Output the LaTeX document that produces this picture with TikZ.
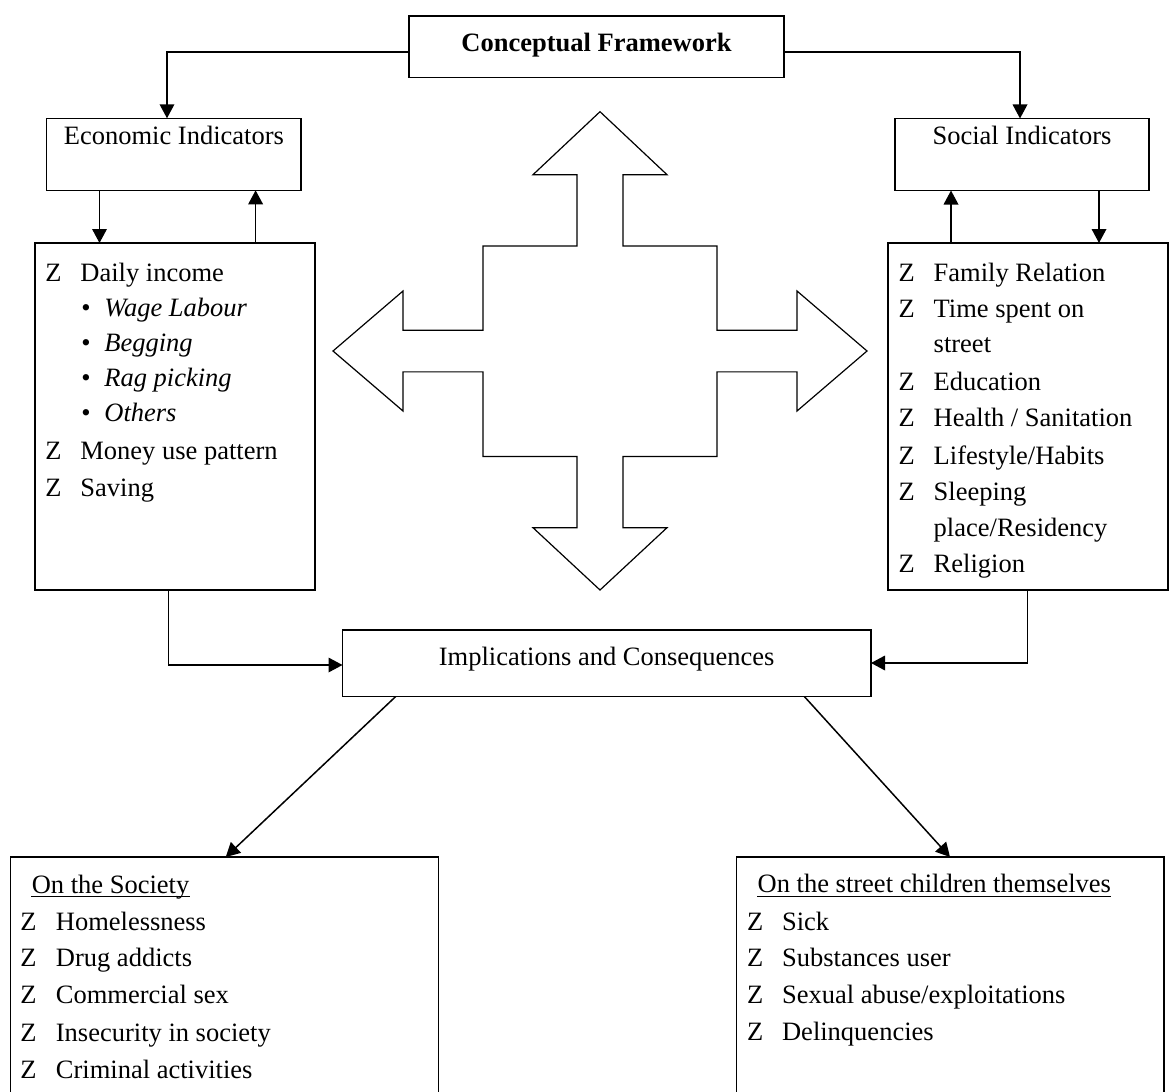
\documentclass[tikz,border=0pt]{standalone}
\usepackage{fontspec}
\setmainfont{Liberation Serif}
\usetikzlibrary{arrows.meta}
\newcommand{\labelsize}{\fontsize{13.25pt}{16pt}\selectfont}
\begin{document}
\begin{tikzpicture}[x=0.5pt, y=-0.5pt, font=\labelsize,
  frame/.style={draw, line width=0.75pt, inner sep=0pt, outer sep=0pt, anchor=north west},
  txt/.style={inner sep=0pt, anchor=base west},
  ctxt/.style={inner sep=0pt, anchor=base},
  link/.style={line width=0.75pt, -{Triangle[length=7pt,width=7.3pt]}},
  outline/.style={draw, line width=0.6pt, line join=miter},
]
\clip (0,0) rectangle (1170,1091);
\fill[white] (0,0) rectangle (1170,1091);

% ---- boxes ----
\node[frame, minimum width=187.5pt, minimum height=30.75pt] (cf) at (409,16) {};
\node[frame, minimum width=127.25pt, minimum height=36pt] (econ) at (46.7,118.3) {};
\node[frame, minimum width=127pt, minimum height=36pt] (social) at (895,118.5) {};
\node[frame, minimum width=140pt, minimum height=173.6pt] (elist) at (35,243) {};
\node[frame, minimum width=140pt, minimum height=173.5pt] (slist) at (888,243) {};
\node[frame, minimum width=264.25pt, minimum height=33.35pt] (impl) at (342.5,630) {};
\node[frame, minimum width=213.95pt, minimum height=131.5pt] (soc) at (10.7,857) {};
\node[frame, minimum width=213.65pt, minimum height=131.5pt] (street) at (736.7,857) {};

% ---- titles ----
\node[ctxt, font=\labelsize\bfseries] (cft) at (596.5,51.7) {Conceptual Framework};
\node[ctxt] (econt) at (173.9,145) {Economic Indicators};
\node[ctxt] (socialt) at (1022,145) {Social Indicators};
\node[ctxt] (implt) at (606.7,665) {Implications and Consequences};

% ---- economic indicators list ----
\foreach \yy/\lbl [count=\i] in {281/Daily income,459.3/Money use pattern,496/Saving}{
  \node[txt] (ez\i) at (45,\yy) {Z};
  \node[txt] (et\i) at (80,\yy) {\lbl};
}
\foreach \yy/\lbl [count=\i] in {316/Wage Labour,351.7/Begging,386.7/Rag picking,421/Others}{
  \node[txt] (eb\i) at (81,\yy) {\textbullet};
  \node[txt, font=\labelsize\itshape] (ei\i) at (104,\yy) {\lbl};
}

% ---- social indicators list ----
\foreach \yy/\lbl [count=\i] in {281/Family Relation,317.7/Time spent on,390/Education,426.7/{Health / Sanitation},464.3/{Lifestyle/Habits},500/Sleeping,572.7/Religion}{
  \node[txt] (sz\i) at (898.3,\yy) {Z};
  \node[txt] (st\i) at (933.3,\yy) {\lbl};
}
\node[txt] (sc1) at (933.3,352.7) {street};
\node[txt] (sc2) at (933.3,536) {place/Residency};

% ---- consequences on the society ----
\node[txt] (soct) at (31.4,893) {On the Society};
\draw[line width=0.5pt] ([yshift=-1.9pt]soct.base west) -- ([yshift=-1.9pt]soct.base east);
\foreach \yy/\lbl [count=\i] in {930/Homelessness,966.7/Drug addicts,1003.3/Commercial sex,1041.7/Insecurity in society,1078.3/Criminal activities}{
  \node[txt] (oz\i) at (19.9,\yy) {Z};
  \node[txt] (ot\i) at (55.5,\yy) {\lbl};
}

% ---- consequences on the children ----
\node[txt] (streett) at (757.3,892.7) {On the street children themselves};
\draw[line width=0.5pt] ([yshift=-1.9pt]streett.base west) -- ([yshift=-1.9pt]streett.base east);
\foreach \yy/\lbl [count=\i] in {930/Sick,966.7/Substances user,1003.3/{Sexual abuse/exploitations},1040.7/Delinquencies}{
  \node[txt] (cz\i) at (746.7,\yy) {Z};
  \node[txt] (ct\i) at (781.7,\yy) {\lbl};
}

% ---- connector guides ----
\coordinate (yg) at (0,52);
\coordinate (xe) at (167,0);
\coordinate (xf) at (1020,0);
\coordinate (xa) at (99.5,0);
\coordinate (xb) at (255.6,0);
\coordinate (xc) at (951,0);
\coordinate (xd) at (1099,0);
\coordinate (xh) at (168.5,0);
\coordinate (yh) at (0,665);
\coordinate (xi) at (1027.5,0);
\coordinate (yi) at (0,663);
\coordinate (xj) at (395.5,0);
\coordinate (xk) at (225.8,0);
\coordinate (xl) at (804.5,0);
\coordinate (xm) at (950,0);

% ---- connectors ----
\draw[link] (cf.west |- yg) -| (econ.north -| xe);
\draw[link] (cf.east |- yg) -| (social.north -| xf);
\draw[link] (econ.south -| xa) -- (elist.north -| xa);
\draw[link] (elist.north -| xb) -- (econ.south -| xb);
\draw[link] (slist.north -| xc) -- (social.south -| xc);
\draw[link] (social.south -| xd) -- (slist.north -| xd);
\draw[link] (elist.south -| xh) |- (impl.west |- yh);
\draw[link] (slist.south -| xi) |- (impl.east |- yi);
\draw[link] (impl.south -| xj) -- (soc.north -| xk);
\draw[link] (impl.south -| xl) -- (street.north -| xm);

% ---- four-way block arrow ----
\begin{scope}[shift={(600,351)}]
\draw[outline] (0,-239.3) -- (67,-176.3) -- (23,-176.3) -- (23,-105) -- (117,-105)
  -- (117,-20.85) -- (197,-20.85) -- (197,-60) -- (267,0) -- (197,60) -- (197,20.85)
  -- (117,20.85) -- (117,105.5) -- (23,105.5) -- (23,176.7) -- (67,176.7) -- (0,239)
  -- (-67,176.7) -- (-23,176.7) -- (-23,105.5) -- (-117,105.5) -- (-117,20.85)
  -- (-197,20.85) -- (-197,60) -- (-267,0) -- (-197,-60) -- (-197,-20.85)
  -- (-117,-20.85) -- (-117,-105) -- (-23,-105) -- (-23,-176.3) -- (-67,-176.3) -- cycle;
\end{scope}
\end{tikzpicture}
\end{document}
